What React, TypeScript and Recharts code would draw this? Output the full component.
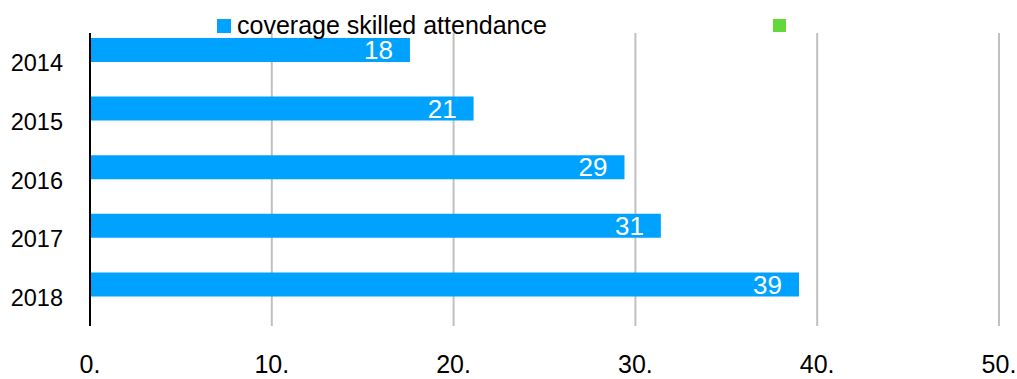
import React from 'react';
import { BarChart, Bar, XAxis, YAxis, CartesianGrid, Legend, LabelList } from 'recharts';

const categories = ['2014', '2015', '2016', '2017', '2018'];
const coverageValues = [17.6, 21.1, 29.4, 31.4, 39.0];
const secondValues: (number | null)[] = [null, null, null, null, null];
const xTicks = [0, 10, 20, 30, 40, 50];
const xTickLabels = ['0.', '10.', '20.', '30.', '40.', '50.'];
const seriesNames = ['coverage skilled attendance', ''];
const seriesColors = ['#00a2ff', '#63d83a'];

const data = categories.map((c, i) => ({
  year: c,
  coverage: coverageValues[i],
  second: secondValues[i],
}));

const FONT = '"Liberation Sans", Arial, sans-serif';

const YTick = (props: any) => {
  const { x, y, payload } = props;
  return (
    <text x={x - 27} y={y} dy={9} textAnchor="end" fontSize={23.5} fontFamily={FONT} fill="#000">
      {payload.value}
    </text>
  );
};

const XTick = (props: any) => {
  const { x, y, payload } = props;
  const idx = xTicks.indexOf(payload.value);
  return (
    <text x={x} y={y} dy={47} textAnchor="middle" fontSize={25} fontFamily={FONT} fill="#000">
      {idx >= 0 ? xTickLabels[idx] : payload.value}
    </text>
  );
};

const LegendContent = () => (
  <svg width={1017} height={45} style={{ display: 'block' }}>
    <rect x={217} y={19} width={14} height={14} fill={seriesColors[0]} />
    <text x={237} y={34} fontSize={25} fontFamily={FONT} fill="#000">
      {seriesNames[0]}
    </text>
    <rect x={773} y={19} width={13} height={13} fill={seriesColors[1]} />
    <text x={792} y={34} fontSize={25} fontFamily={FONT} fill="#000">
      {seriesNames[1]}
    </text>
  </svg>
);

export default function App() {
  return (
    <div style={{ position: 'absolute', left: 0, top: 0, width: 1017, height: 379, background: '#fff' }}>
      <BarChart
        width={1017}
        height={379}
        data={data}
        layout="vertical"
        margin={{ top: 33, right: 18, bottom: 0, left: 0 }}
        barGap={0}
      >
        <CartesianGrid horizontal={false} vertical stroke="#c0c0c0" strokeWidth={2} />
        <XAxis
          type="number"
          domain={[0, 50]}
          ticks={xTicks}
          axisLine={false}
          tickLine={false}
          tickSize={0}
          tickMargin={0}
          height={53}
          tick={<XTick />}
          interval={0}
        />
        <YAxis
          type="category"
          dataKey="year"
          width={90}
          axisLine={{ stroke: '#000', strokeWidth: 2 }}
          tickLine={false}
          tickSize={0}
          tickMargin={0}
          tick={<YTick />}
          interval={0}
        />
        <Legend
          layout="vertical"
          align="center"
          verticalAlign="middle"
          wrapperStyle={{ top: 0, left: 0, width: 1017, height: 45 }}
          content={<LegendContent />}
        />
        <Bar dataKey="coverage" name={seriesNames[0]} fill={seriesColors[0]} barSize={24} isAnimationActive={false}>
          <LabelList
            dataKey="coverage"
            position="insideRight"
            offset={17}
            fill="#fff"
            fontSize={26}
            fontFamily={FONT}
            formatter={(v: any) => Math.round(Number(v))}
          />
        </Bar>
        <Bar dataKey="second" name={seriesNames[1]} fill={seriesColors[1]} barSize={24} isAnimationActive={false} />
      </BarChart>
    </div>
  );
}
